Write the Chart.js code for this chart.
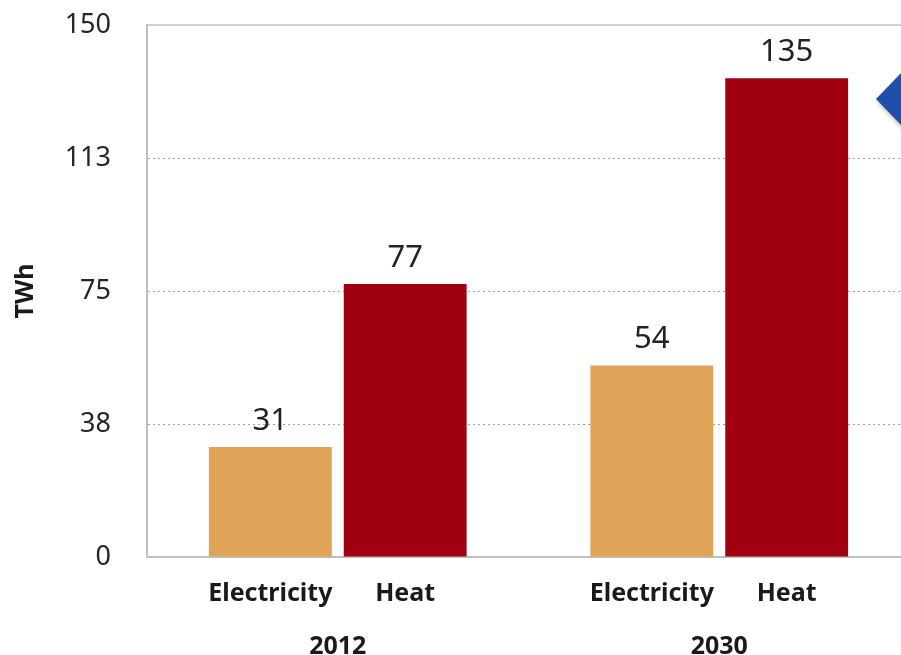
<!DOCTYPE html>
<html lang="en">
<head>
    <meta charset="UTF-8">
    <title>TWh 2012 / 2030</title>
    <script src="https://cdn.jsdelivr.net/npm/chart.js@4.4.0/dist/chart.umd.min.js"></script>
    <style>
        html, body {
            margin: 0;
            padding: 0;
            background: #fff;
            overflow: hidden;
        }
        #wrap {
            position: absolute;
            left: 0;
            top: 0;
            width: 910px;
            height: 655px;
        }
    </style>
</head>
<body>
    <div id="wrap"><canvas id="chart"></canvas></div>

    <script>
        const years = ['2012', '2030'];
        const seriesNames = ['Electricity', 'Heat'];
        const electricity = [31, 54];
        const heat = [77, 135];
        const yTickLabels = ['0', '38', '75', '113', '150'];

        const FONT = '"Noto Sans", "DejaVu Sans", sans-serif';

        // value labels, series labels under bars, solid top line, blue arrow on the right
        const extras = {
            id: 'extras',
            afterDatasetsDraw(chart) {
                const ctx = chart.ctx;
                const area = chart.chartArea;
                ctx.save();
                ctx.strokeStyle = '#c0c0c0';
                ctx.lineWidth = 1.5;
                ctx.beginPath();
                ctx.moveTo(area.left, area.top);
                ctx.lineTo(area.right, area.top);
                ctx.stroke();

                chart.data.datasets.forEach((ds, di) => {
                    const meta = chart.getDatasetMeta(di);
                    meta.data.forEach((bar, i) => {
                        ctx.fillStyle = '#222';
                        ctx.textAlign = 'center';
                        ctx.font = '31px ' + FONT;
                        ctx.textBaseline = 'alphabetic';
                        ctx.fillText(ds.data[i], bar.x, bar.y - 17);
                        ctx.font = 'bold 25px ' + FONT;
                        ctx.textBaseline = 'middle';
                        ctx.fillStyle = '#1a1a1a';
                        ctx.fillText(ds.label, bar.x, area.bottom + 37);
                    });
                });

                // decorative arrow cut off at the right edge
                ctx.shadowColor = 'rgba(0,0,0,0.35)';
                ctx.shadowBlur = 5;
                ctx.shadowOffsetX = 2;
                ctx.shadowOffsetY = 3;
                ctx.fillStyle = '#1f4fa8';
                ctx.beginPath();
                ctx.moveTo(876, 99);
                ctx.lineTo(903, 71);
                ctx.lineTo(930, 99);
                ctx.lineTo(903, 127);
                ctx.closePath();
                ctx.fill();
                ctx.restore();
            }
        };

        const ctx = document.getElementById('chart').getContext('2d');
        new Chart(ctx, {
            type: 'bar',
            data: {
                labels: years,
                datasets: [{
                    label: seriesNames[0],
                    data: electricity,
                    backgroundColor: '#e0a458'
                }, {
                    label: seriesNames[1],
                    data: heat,
                    backgroundColor: '#a0000f'
                }]
            },
            options: {
                responsive: true,
                maintainAspectRatio: false,
                animation: false,
                categoryPercentage: 0.707,
                barPercentage: 0.911,
                layout: {
                    padding: { top: 25, left: 0, right: 0, bottom: 0 }
                },
                plugins: {
                    legend: { display: false },
                    tooltip: { enabled: false }
                },
                scales: {
                    x: {
                        afterFit: function(scale) { scale.height = 98; },
                        grid: { drawOnChartArea: false, drawTicks: false },
                        border: { display: true, color: '#bfbfbf', width: 2 },
                        ticks: {
                            padding: 75,
                            color: '#1a1a1a',
                            font: { family: FONT, size: 25, weight: 'bold' }
                        }
                    },
                    y: {
                        min: 0,
                        max: 150,
                        afterFit: function(scale) {
                            scale.width = 147;
                            scale.paddingTop = 0;
                            scale.paddingBottom = 0;
                        },
                        grid: {
                            drawTicks: false,
                            lineWidth: 1,
                            color: function(c) {
                                if (c.tick && (c.tick.value === 0 || c.tick.value === 150)) {
                                    return 'rgba(0,0,0,0)';
                                }
                                return '#a0a0a0';
                            }
                        },
                        border: { display: true, color: '#bfbfbf', width: 2, dash: [2, 3] },
                        ticks: {
                            stepSize: 37.5,
                            padding: 36,
                            color: '#262626',
                            font: { family: FONT, size: 27 },
                            callback: function(value, index) {
                                return yTickLabels[index];
                            }
                        },
                        title: {
                            display: true,
                            text: 'TWh',
                            color: '#1a1a1a',
                            padding: { top: 11, bottom: 0 },
                            font: { family: FONT, size: 25, weight: 'bold' }
                        }
                    }
                }
            },
            plugins: [extras]
        });
    </script>
</body>
</html>
